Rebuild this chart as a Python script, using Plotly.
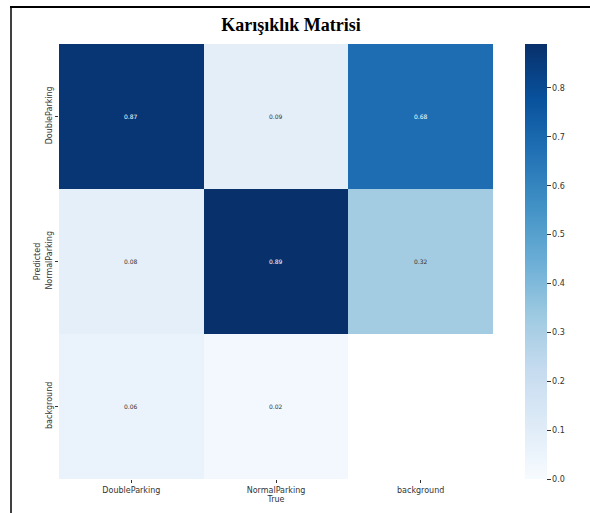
import plotly.graph_objects as go

labels = ["DoubleParking", "NormalParking", "background"]
# rows = Predicted, columns = True
values = [
    [0.87, 0.09, 0.68],
    [0.08, 0.89, 0.32],
    [0.06, 0.02, None],
]
title_text = "Karışıklık Matrisi"
zmax = 0.89
cbar_ticks = [0.0, 0.1, 0.2, 0.3, 0.4, 0.5, 0.6, 0.7, 0.8]

blues = ["#f7fbff", "#deebf7", "#c6dbef", "#9ecae1", "#6baed6",
         "#4292c6", "#2171b5", "#08519c", "#08306b"]
colorscale = [[i / (len(blues) - 1), c] for i, c in enumerate(blues)]

W, H = 590, 513
L, R, T, B = 59, 97, 44, 34
pw, ph = W - L - R, H - T - B

def px2x(px):
    return (px - L) / pw

def py2y(py):
    return (H - B - py) / ph

fig = go.Figure(go.Heatmap(
    z=values, x=labels, y=labels,
    colorscale=colorscale, zmin=0, zmax=zmax,
    hoverongaps=False,
    colorbar=dict(
        x=px2x(525), xanchor="left", xref="paper",
        y=0.5, yanchor="middle", len=1, lenmode="fraction",
        xpad=0, ypad=0,
        thickness=22, thicknessmode="pixels",
        outlinewidth=0, ticks="outside", ticklen=4, tickwidth=1,
        tickcolor="#333", tickvals=cbar_ticks,
        ticktext=[f"{v:.1f}" for v in cbar_ticks],
        tickfont=dict(family="DejaVu Sans", size=8, color="#333"),
    ),
))

annotations = []
for i, row in enumerate(values):
    for j, v in enumerate(row):
        if v is None:
            continue
        annotations.append(dict(
            x=labels[j], y=labels[i], xref="x", yref="y",
            text=f"{v:.2f}", showarrow=False,
            font=dict(family="DejaVu Sans", size=6,
                      color="#ffffff" if v > 0.5 else "#333333"),
        ))

fig.update_layout(
    width=W, height=H,
    margin=dict(l=L, r=R, t=T, b=B, pad=0, autoexpand=False),
    paper_bgcolor="white", plot_bgcolor="white",
    title=dict(text=f"<b>{title_text}</b>", x=291 / W, xref="container",
               xanchor="center", y=1 - 25 / H, yanchor="middle",
               font=dict(family="Liberation Serif", size=18, color="black")),
    annotations=annotations,
    shapes=[
        dict(type="line", xref="paper", yref="paper",
             x0=px2x(10), x1=px2x(592), y0=py2y(7), y1=py2y(7),
             line=dict(color="black", width=2)),
        dict(type="line", xref="paper", yref="paper",
             x0=px2x(11), x1=px2x(11), y0=py2y(6), y1=py2y(515),
             line=dict(color="black", width=1.5)),
    ],
    xaxis=dict(
        showgrid=False, zeroline=False, showline=False,
        ticks="outside", ticklen=3, tickwidth=1, tickcolor="#333",
        tickfont=dict(family="DejaVu Sans", size=8, color="#333"),
        title=dict(text="True", standoff=2,
                   font=dict(family="DejaVu Sans", size=8, color="#333")),
    ),
    yaxis=dict(
        showgrid=False, zeroline=False, showline=False,
        autorange="reversed",
        ticks="outside", ticklen=3, tickwidth=1, tickcolor="#333",
        tickangle=-90,
        tickfont=dict(family="DejaVu Sans", size=8, color="#333"),
        title=dict(text="Predicted", standoff=2,
                   font=dict(family="DejaVu Sans", size=8, color="#333")),
    ),
)

fig.write_html("out.html")
